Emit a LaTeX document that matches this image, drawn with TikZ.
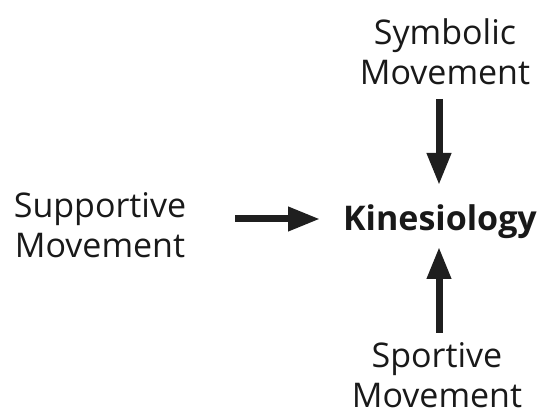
\documentclass[tikz,border=0pt]{standalone}
\usepackage{fontspec}
\setmainfont{Open Sans}
\usetikzlibrary{arrows.meta}
\begin{document}
\begin{tikzpicture}[x=1pt,y=-1pt,
  lbl/.style={font=\fontsize{34}{40}\selectfont, align=center, inner sep=0pt, text=black!90},
  kin/.style={font=\fontsize{34}{40}\selectfont\bfseries, inner sep=0pt, text=black!90},
  arr/.style={line width=7pt, draw=black!88, -{Triangle[length=32pt,width=23pt]}}]
\useasboundingbox (0,0) rectangle (544,414);
\node[lbl] (sym) at (445,52) {Symbolic\\Movement};
\node[lbl] (sup) at (100,225) {Supportive\\Movement};
\node[lbl] (spo) at (437,375) {Sportive\\Movement};
\node[kin] (kin) at (440,222) {Kinesiology};
\coordinate (d1) at (439,99);
\coordinate (d2) at (439,185);
\coordinate (u1) at (439,333);
\coordinate (u2) at (439,247);
\coordinate (r1) at (235,219);
\coordinate (r2) at (320,219);
\draw[arr] (d1) -- (d2);
\draw[arr] (u1) -- (u2);
\draw[arr] (r1) -- (r2);
\end{tikzpicture}
\end{document}
